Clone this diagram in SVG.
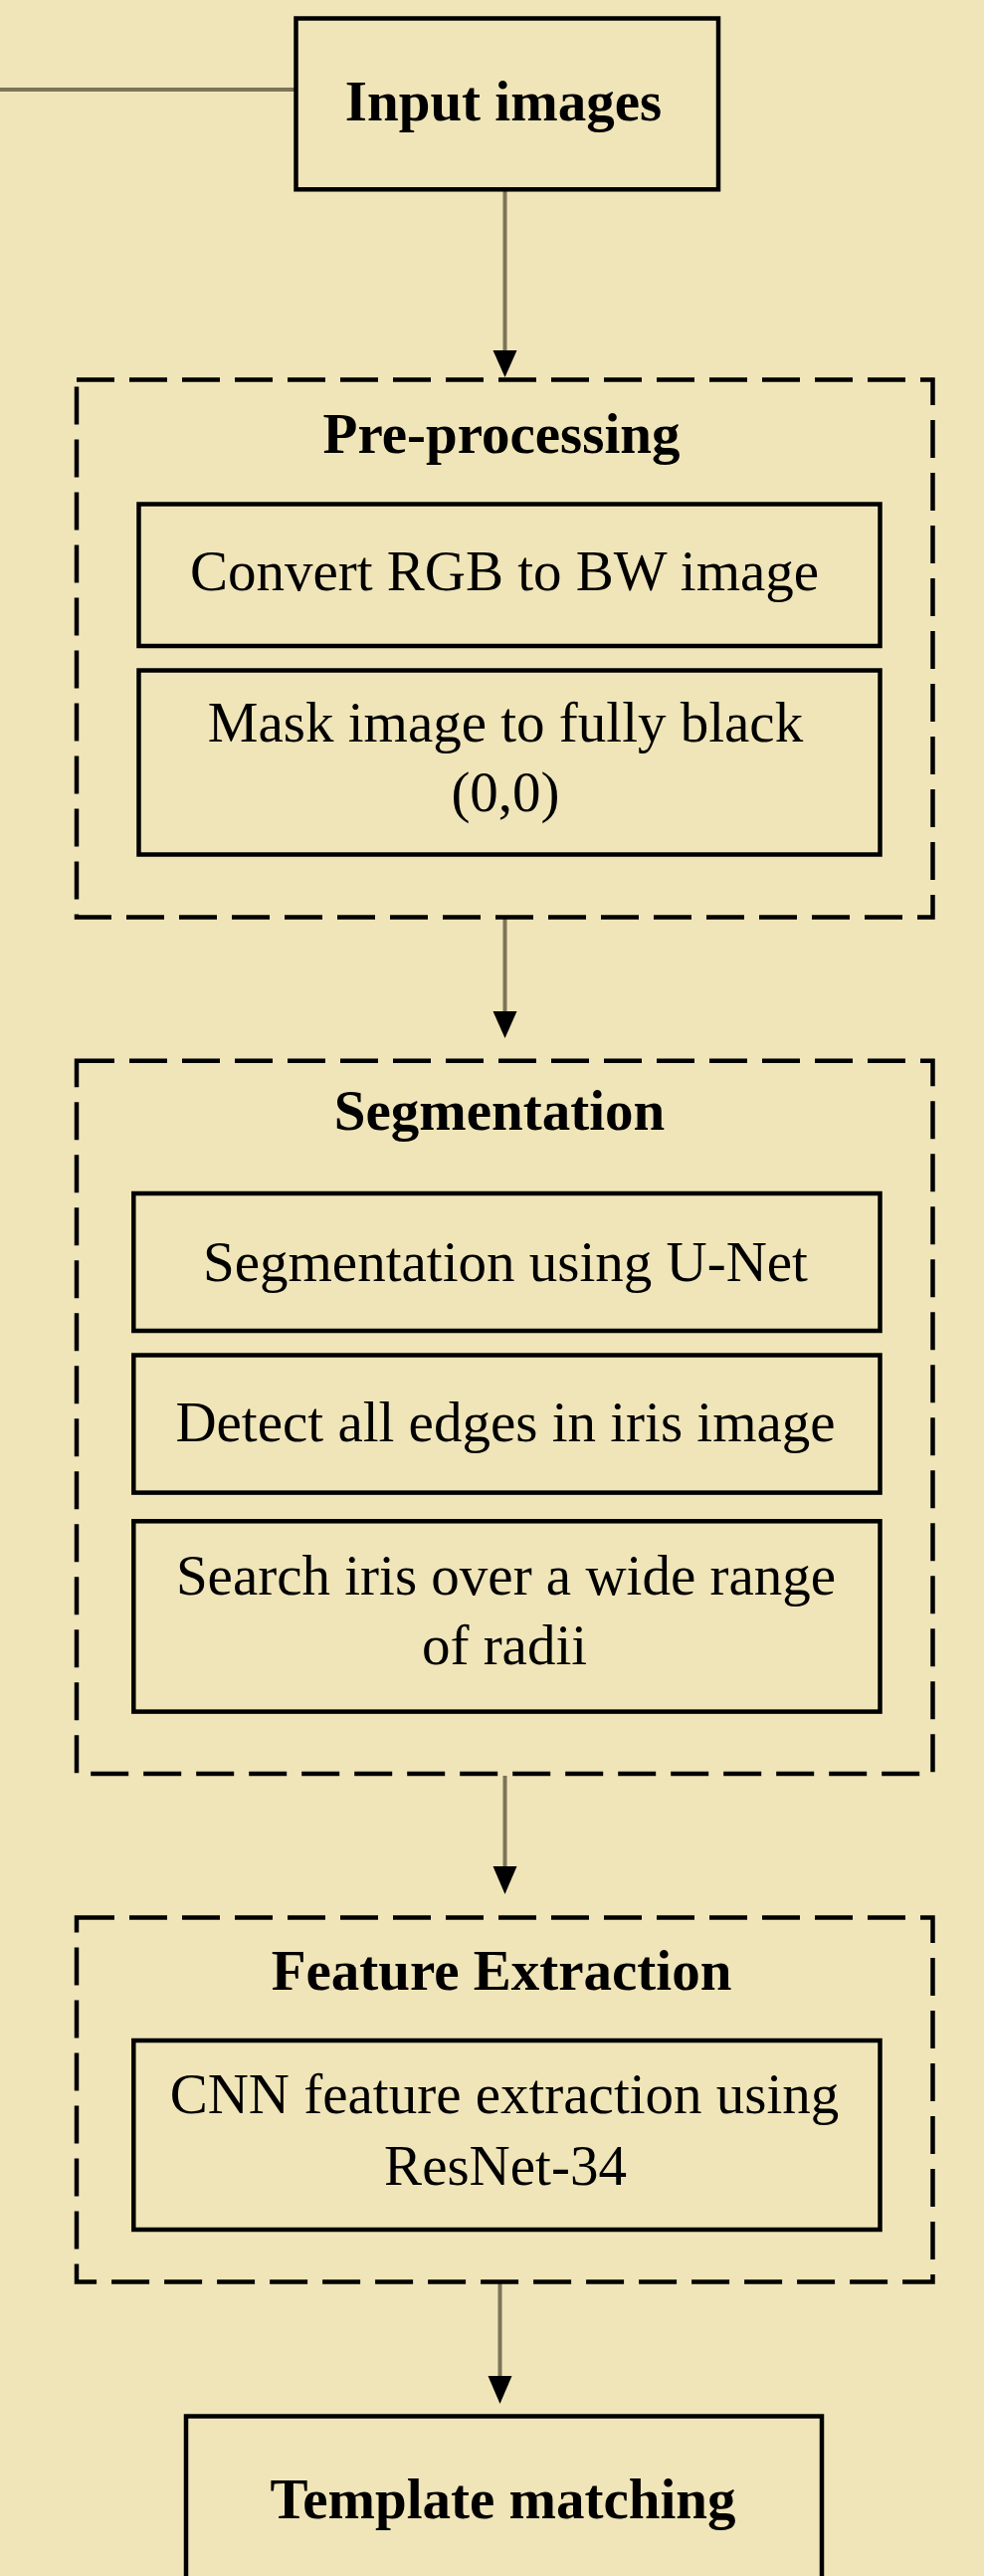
<svg xmlns="http://www.w3.org/2000/svg" width="989" height="2588" viewBox="0 0 989 2588">
<defs>
<style>
.bg{fill:#F0E5B8}
.box{fill:none;stroke:#000;stroke-width:4.5}
.grp{fill:none;stroke:#000;stroke-width:4.5;stroke-dasharray:38 15}
.ln{fill:none;stroke:#7a7459;stroke-width:4}
.hd{fill:#000}
text{font-family:"Liberation Serif","Times New Roman",serif;font-size:57px;fill:#000;text-anchor:middle}
.b{font-weight:bold}
</style>
</defs>
<rect class="bg" x="0" y="0" width="989" height="2588"/>

<g id="connectors">
<line class="ln" x1="0" y1="90" x2="296" y2="90"/>
<line class="ln" x1="507.5" y1="191" x2="507.5" y2="354"/>
<polygon class="hd" points="495.5,352 519.5,352 507.5,379"/>
<line class="ln" x1="507.5" y1="923" x2="507.5" y2="1018"/>
<polygon class="hd" points="495.5,1016 519.5,1016 507.5,1043"/>
<line class="ln" x1="507.5" y1="1784" x2="507.5" y2="1877"/>
<polygon class="hd" points="495.5,1875 519.5,1875 507.5,1903"/>
<line class="ln" x1="502.5" y1="2294" x2="502.5" y2="2389"/>
<polygon class="hd" points="490.5,2387 514.5,2387 502.5,2415"/>
</g>

<g id="input-images">
<rect class="box" x="297.5" y="18.5" width="424.5" height="171.8"/>
<text class="b" x="506" y="121">Input images</text>
</g>

<g id="pre-processing">
<rect class="grp" x="77" y="381.5" width="860.5" height="540"/>
<text class="b" x="504" y="455">Pre-processing</text>
</g>
<g id="convert-rgb">
<rect class="box" x="139.5" y="506.5" width="745" height="142.5"/>
<text x="507" y="593">Convert RGB to BW image</text>
</g>
<g id="mask-image">
<rect class="box" x="139.5" y="673.5" width="745" height="185"/>
<text x="508" y="745">Mask image to fully black</text>
<text x="508" y="815">(0,0)</text>
</g>

<g id="segmentation">
<rect class="grp" x="77" y="1065.8" width="860.5" height="716.2"/>
<text class="b" x="502" y="1135">Segmentation</text>
</g>
<g id="unet">
<rect class="box" x="134.3" y="1199" width="750.2" height="138"/>
<text x="508" y="1287">Segmentation using U-Net</text>
</g>
<g id="detect-edges">
<rect class="box" x="134.3" y="1361.5" width="750.2" height="138.1"/>
<text x="508" y="1448">Detect all edges in iris image</text>
</g>
<g id="search-iris">
<rect class="box" x="134.3" y="1528.3" width="750.2" height="191.3"/>
<text x="508.5" y="1602">Search iris over a wide range</text>
<text x="507" y="1672">of radii</text>
</g>

<g id="feature-extraction">
<rect class="grp" x="77" y="1926.4" width="860.5" height="366.1"/>
<text class="b" x="504" y="1999">Feature Extraction</text>
</g>
<g id="cnn">
<rect class="box" x="134.3" y="2050" width="750.2" height="190"/>
<text x="507" y="2123">CNN feature extraction using</text>
<text x="508" y="2195">ResNet-34</text>
</g>

<g id="template-matching">
<rect class="box" x="187" y="2427.5" width="639" height="200"/>
<text class="b" x="505.5" y="2530">Template matching</text>
</g>
</svg>
